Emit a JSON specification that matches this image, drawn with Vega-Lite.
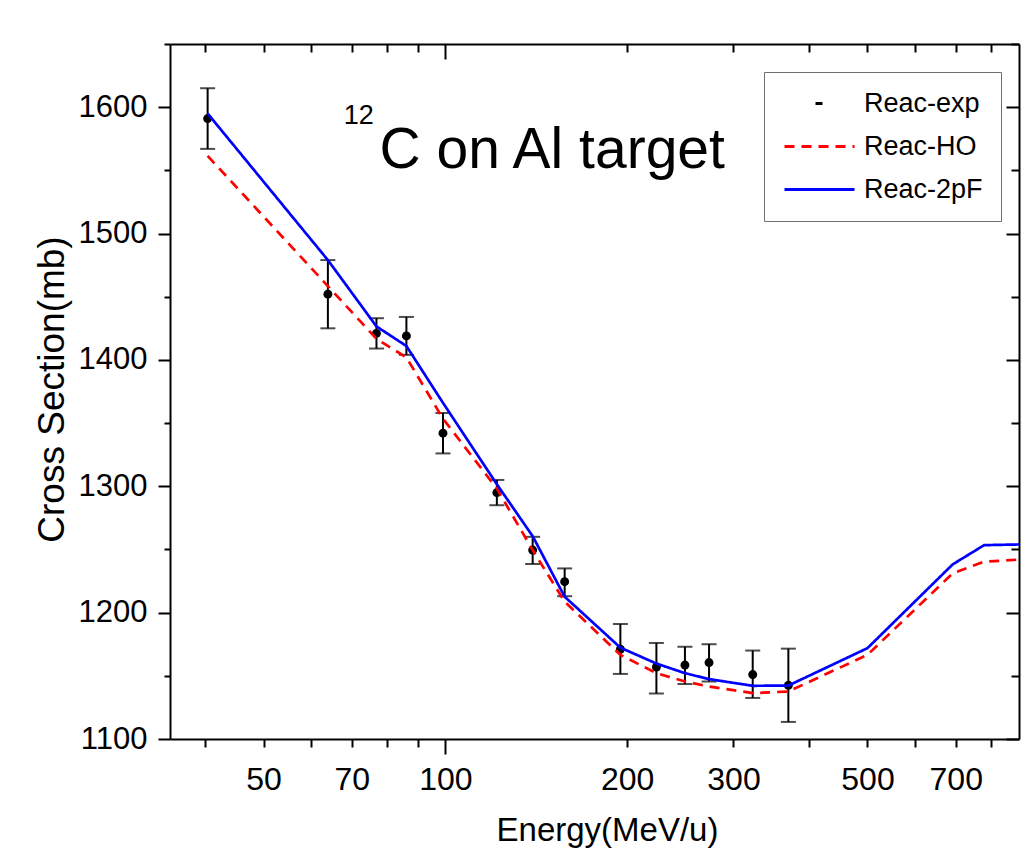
{
  "$schema": "https://vega.github.io/schema/vega-lite/v6.json",
  "width": 849,
  "height": 695,
  "autosize": {"type": "none"},
  "padding": {"left": 170, "top": 44, "right": 15, "bottom": 112},
  "background": "white",
  "config": {
    "view": {"stroke": null},
    "font": "Liberation Sans",
    "legend": {
      "labelFontSize": 27, "labelFont": "Liberation Sans", "labelColor": "black",
      "orient": "none", "legendX": 594, "legendY": 28, "direction": "vertical",
      "strokeColor": "#707070", "fillColor": "white", "padding": 18,
      "symbolType": "M-7,0H7", "symbolSize": 100, "symbolOffset": 24, "symbolStrokeWidth": 3,
      "labelOffset": 31, "rowPadding": 15, "labelLimit": 300
    },
    "axis": {
      "grid": false,
      "domainColor": "black",
      "domainWidth": 2,
      "tickColor": "black",
      "tickWidth": 2,
      "labelColor": "black",
      "titleColor": "black",
      "labelFont": "Liberation Sans",
      "titleFont": "Liberation Sans",
      "titleFontWeight": "normal",
      "labelFlush": false,
      "labelOverlap": false,
      "labelBound": false
    }
  },
  "datasets": {
    "exp": [
      {"E": 40.4, "cs": 1591, "lo": 1567, "hi": 1615, "series": "Reac-exp"},
      {"E": 63.9, "cs": 1452, "lo": 1425, "hi": 1479, "series": "Reac-exp"},
      {"E": 76.9, "cs": 1421, "lo": 1409, "hi": 1433, "series": "Reac-exp"},
      {"E": 86.2, "cs": 1419, "lo": 1404, "hi": 1434, "series": "Reac-exp"},
      {"E": 99.1, "cs": 1342, "lo": 1326, "hi": 1358, "series": "Reac-exp"},
      {"E": 121.7, "cs": 1295, "lo": 1285, "hi": 1305, "series": "Reac-exp"},
      {"E": 139.5, "cs": 1249.5, "lo": 1238.5, "hi": 1260, "series": "Reac-exp"},
      {"E": 157.6, "cs": 1224.5, "lo": 1213, "hi": 1235, "series": "Reac-exp"},
      {"E": 194.9, "cs": 1171, "lo": 1151.5, "hi": 1191, "series": "Reac-exp"},
      {"E": 223.6, "cs": 1157, "lo": 1136, "hi": 1176, "series": "Reac-exp"},
      {"E": 249.3, "cs": 1158.5, "lo": 1143.5, "hi": 1173, "series": "Reac-exp"},
      {"E": 273.3, "cs": 1160.5, "lo": 1145.5, "hi": 1175, "series": "Reac-exp"},
      {"E": 322.8, "cs": 1151, "lo": 1132.5, "hi": 1170, "series": "Reac-exp"},
      {"E": 369.8, "cs": 1142.5, "lo": 1113.5, "hi": 1171.5, "series": "Reac-exp"}
    ],
    "ho": [
      {"E": 40.4, "cs": 1561.4, "series": "Reac-HO"},
      {"E": 63.9, "cs": 1458.4, "series": "Reac-HO"},
      {"E": 76.9, "cs": 1416.7, "series": "Reac-HO"},
      {"E": 86.2, "cs": 1402, "series": "Reac-HO"},
      {"E": 99.1, "cs": 1353.5, "series": "Reac-HO"},
      {"E": 121.7, "cs": 1298.2, "series": "Reac-HO"},
      {"E": 139.5, "cs": 1249.5, "series": "Reac-HO"},
      {"E": 157.6, "cs": 1208.7, "series": "Reac-HO"},
      {"E": 194.9, "cs": 1166.6, "series": "Reac-HO"},
      {"E": 223.6, "cs": 1152.1, "series": "Reac-HO"},
      {"E": 249.3, "cs": 1145.5, "series": "Reac-HO"},
      {"E": 273.3, "cs": 1141.5, "series": "Reac-HO"},
      {"E": 322.8, "cs": 1136.3, "series": "Reac-HO"},
      {"E": 369.8, "cs": 1137.6, "series": "Reac-HO"},
      {"E": 500, "cs": 1166.6, "series": "Reac-HO"},
      {"E": 692, "cs": 1231.1, "series": "Reac-HO"},
      {"E": 780, "cs": 1240.3, "series": "Reac-HO"},
      {"E": 900, "cs": 1242.1, "series": "Reac-HO"}
    ],
    "pf": [
      {"E": 40.4, "cs": 1595, "series": "Reac-2pF"},
      {"E": 63.9, "cs": 1479, "series": "Reac-2pF"},
      {"E": 76.9, "cs": 1426.5, "series": "Reac-2pF"},
      {"E": 86.2, "cs": 1411, "series": "Reac-2pF"},
      {"E": 99.1, "cs": 1366, "series": "Reac-2pF"},
      {"E": 121.7, "cs": 1301.6, "series": "Reac-2pF"},
      {"E": 139.5, "cs": 1260.5, "series": "Reac-2pF"},
      {"E": 157.6, "cs": 1212.6, "series": "Reac-2pF"},
      {"E": 194.9, "cs": 1172.3, "series": "Reac-2pF"},
      {"E": 223.6, "cs": 1159.7, "series": "Reac-2pF"},
      {"E": 249.3, "cs": 1152.1, "series": "Reac-2pF"},
      {"E": 273.3, "cs": 1147.4, "series": "Reac-2pF"},
      {"E": 322.8, "cs": 1142.1, "series": "Reac-2pF"},
      {"E": 369.8, "cs": 1142.3, "series": "Reac-2pF"},
      {"E": 500, "cs": 1171.9, "series": "Reac-2pF"},
      {"E": 692, "cs": 1238.2, "series": "Reac-2pF"},
      {"E": 780, "cs": 1253.4, "series": "Reac-2pF"},
      {"E": 900, "cs": 1254, "series": "Reac-2pF"}
    ],
    "notes": [
      {"E": 77.8, "cs": 1552, "txt": "C on Al target"}
    ],
    "sup": [
      {"E": 67.9, "cs": 1586.6, "txt": "12"}
    ]
  },
  "layer": [
    {
      "data": {"name": "exp"},
      "mark": {"type": "rule", "color": "black", "strokeWidth": 2},
      "encoding": {
        "x": {
          "field": "E", "type": "quantitative",
          "scale": {"type": "log", "domain": [35, 891], "nice": false},
          "axis": {
            "orient": "bottom",
            "values": [40, 50, 60, 70, 80, 90, 100, 200, 300, 400, 500, 600, 700, 800],
            "format": "d",
            "labelExpr": "indexof([50,70,100,200,300,500,700], datum.value) >= 0 ? datum.label : ''",
            "tickSize": {"condition": {"test": "datum.value === 100", "value": 15}, "value": 8},
            "labelPadding": {"condition": {"test": "datum.value === 100", "value": 10}, "value": 17},
            "labelFontSize": 32,
            "title": "Energy(MeV/u)",
            "titleFontSize": 33,
            "titleX": 437,
            "titleY": 101,
            "titleBaseline": "alphabetic"
          }
        },
        "y": {
          "field": "lo", "type": "quantitative",
          "scale": {"domain": [1100, 1650], "nice": false, "zero": false},
          "axis": {
            "orient": "left",
            "values": [1100, 1150, 1200, 1250, 1300, 1350, 1400, 1450, 1500, 1550, 1600, 1650],
            "format": "d",
            "labelExpr": "datum.value % 100 === 0 ? datum.label : ''",
            "tickSize": {"condition": {"test": "datum.value % 100 === 0", "value": 12}, "value": 6},
            "labelPadding": {"condition": {"test": "datum.value % 100 === 0", "value": 11}, "value": 17},
            "labelFontSize": 31,
            "title": "Cross Section(mb)",
            "titleFontSize": 37,
            "titleX": -107,
            "titleY": 345,
            "titleBaseline": "alphabetic"
          }
        },
        "y2": {"field": "hi"}
      }
    },
    {
      "data": {"name": "exp"},
      "mark": {"type": "tick", "orient": "horizontal", "color": "black", "size": 15, "thickness": 2},
      "encoding": {
        "x": {
          "field": "E", "type": "quantitative",
          "scale": {"type": "log", "domain": [35, 891], "nice": false},
          "axis": {
            "orient": "top",
            "values": [40, 50, 60, 70, 80, 90, 100, 200, 300, 400, 500, 600, 700, 800],
            "labels": false,
            "tickSize": {"condition": {"test": "datum.value === 100", "value": -15}, "value": -8},
            "title": null
          }
        },
        "y": {
          "field": "hi", "type": "quantitative",
          "scale": {"domain": [1100, 1650], "nice": false, "zero": false},
          "axis": {
            "orient": "right",
            "values": [1100, 1150, 1200, 1250, 1300, 1350, 1400, 1450, 1500, 1550, 1600, 1650],
            "labels": false,
            "tickSize": {"condition": {"test": "datum.value % 100 === 0", "value": -13}, "value": -8},
            "title": null
          }
        }
      }
    },
    {
      "data": {"name": "exp"},
      "mark": {"type": "tick", "orient": "horizontal", "color": "black", "size": 15, "thickness": 2},
      "encoding": {
        "x": {"field": "E", "type": "quantitative", "scale": {"type": "log", "domain": [35, 891], "nice": false}, "axis": null},
        "y": {"field": "lo", "type": "quantitative", "scale": {"domain": [1100, 1650], "nice": false, "zero": false}, "axis": null}
      }
    },
    {
      "data": {"name": "exp"},
      "mark": {"type": "point", "filled": true, "size": 80, "opacity": 1},
      "encoding": {
        "x": {"field": "E", "type": "quantitative", "scale": {"type": "log", "domain": [35, 891], "nice": false}, "axis": null},
        "y": {"field": "cs", "type": "quantitative", "scale": {"domain": [1100, 1650], "nice": false, "zero": false}, "axis": null},
        "color": {
          "field": "series", "type": "nominal",
          "scale": {"domain": ["Reac-exp", "Reac-HO", "Reac-2pF"], "range": ["#000000", "#ff0000", "#0000ff"]},
          "legend": {"title": null}
        }
      }
    },
    {
      "data": {"name": "ho"},
      "mark": {"type": "line", "strokeWidth": 2.7, "clip": true},
      "encoding": {
        "x": {"field": "E", "type": "quantitative", "scale": {"type": "log", "domain": [35, 891], "nice": false}, "axis": null},
        "y": {"field": "cs", "type": "quantitative", "scale": {"domain": [1100, 1650], "nice": false, "zero": false}, "axis": null},
        "color": {
          "field": "series", "type": "nominal",
          "scale": {"domain": ["Reac-exp", "Reac-HO", "Reac-2pF"], "range": ["#000000", "#ff0000", "#0000ff"]},
          "legend": {"title": null}
        },
        "strokeDash": {
          "field": "series", "type": "nominal",
          "scale": {"domain": ["Reac-exp", "Reac-HO", "Reac-2pF"], "range": [[0, 31, 7, 100], [10, 7], [1, 0]]},
          "legend": {"title": null}
        }
      }
    },
    {
      "data": {"name": "pf"},
      "mark": {"type": "line", "strokeWidth": 2.7, "clip": true},
      "encoding": {
        "x": {"field": "E", "type": "quantitative", "scale": {"type": "log", "domain": [35, 891], "nice": false}, "axis": null},
        "y": {"field": "cs", "type": "quantitative", "scale": {"domain": [1100, 1650], "nice": false, "zero": false}, "axis": null},
        "color": {
          "field": "series", "type": "nominal",
          "scale": {"domain": ["Reac-exp", "Reac-HO", "Reac-2pF"], "range": ["#000000", "#ff0000", "#0000ff"]},
          "legend": {"title": null}
        },
        "strokeDash": {
          "field": "series", "type": "nominal",
          "scale": {"domain": ["Reac-exp", "Reac-HO", "Reac-2pF"], "range": [[0, 31, 7, 100], [10, 7], [1, 0]]},
          "legend": {"title": null}
        }
      }
    },
    {
      "data": {"name": "notes"},
      "mark": {"type": "text", "align": "left", "baseline": "alphabetic", "fontSize": 57, "font": "Liberation Sans", "color": "black"},
      "encoding": {
        "x": {"field": "E", "type": "quantitative", "scale": {"type": "log", "domain": [35, 891], "nice": false}, "axis": null},
        "y": {"field": "cs", "type": "quantitative", "scale": {"domain": [1100, 1650], "nice": false, "zero": false}, "axis": null},
        "text": {"field": "txt"}
      }
    },
    {
      "data": {"name": "sup"},
      "mark": {"type": "text", "align": "left", "baseline": "alphabetic", "fontSize": 27, "font": "Liberation Sans", "color": "black"},
      "encoding": {
        "x": {"field": "E", "type": "quantitative", "scale": {"type": "log", "domain": [35, 891], "nice": false}, "axis": null},
        "y": {"field": "cs", "type": "quantitative", "scale": {"domain": [1100, 1650], "nice": false, "zero": false}, "axis": null},
        "text": {"field": "txt"}
      }
    }
  ],
  "resolve": {"axis": {"x": "independent", "y": "independent"}}
}
